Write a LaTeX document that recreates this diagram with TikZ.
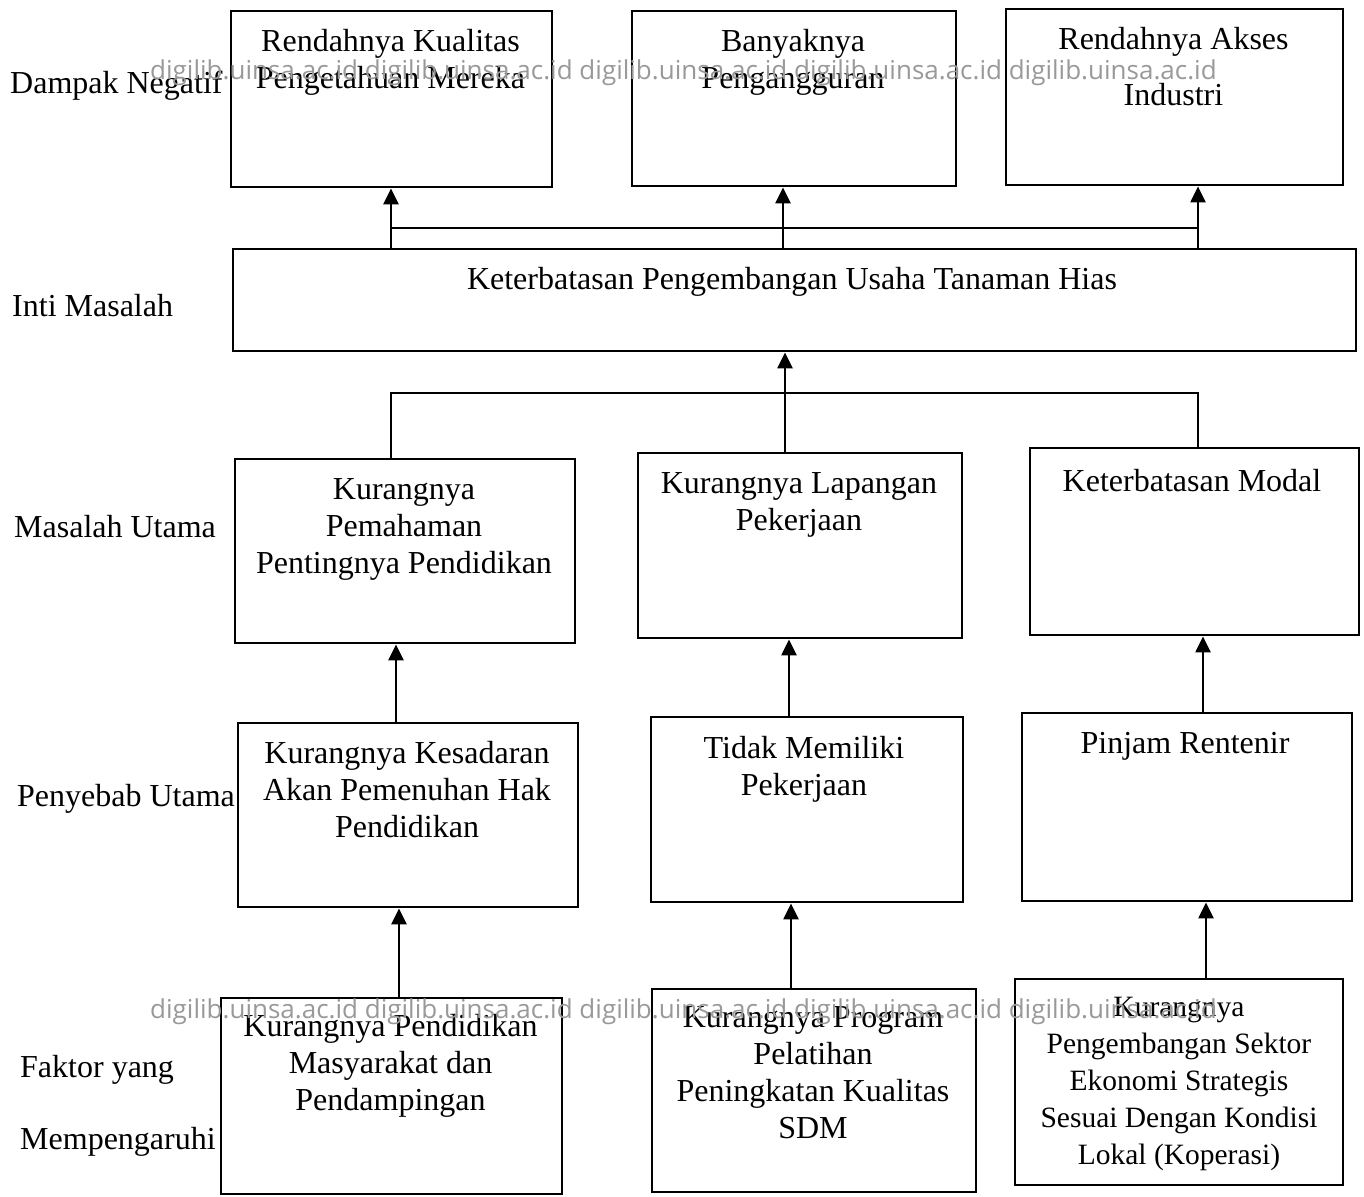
\documentclass[tikz,border=0pt]{standalone}
\usepackage{fontspec}
\setmainfont{Liberation Serif}
\newfontfamily\wmfont{Open Sans}
\usetikzlibrary{arrows.meta}
\begin{document}
\begin{tikzpicture}[x=1pt,y=-1pt,
  box/.style={draw, line width=2.4pt, anchor=north west, inner sep=0pt},
  txt/.style={anchor=north, align=center, inner sep=0pt, font=\fontsize{32}{37}\selectfont},
  small/.style={font=\fontsize{29.5}{37}\selectfont},
  lab/.style={anchor=base west, inner sep=0pt, font=\fontsize{32}{37}\selectfont},
  wm/.style={anchor=base west, inner sep=0pt, text=black!40, font=\wmfont\fontsize{26}{30}\selectfont},
  ln/.style={line width=2.4pt},
  arr/.style={ln, -{Triangle[length=16pt,width=15pt]}}]
\fill[white] (0,0) rectangle (1364,1196);
\useasboundingbox (0,0) rectangle (1364,1196);

% left labels
\node[lab] (L1) at (10,94) {Dampak Negatif};
\node[lab] (L2) at (12,316) {Inti Masalah};
\node[lab] (L3) at (14,537) {Masalah Utama};
\node[lab] (L4) at (17,806) {Penyebab Utama};
\node[lab] (L5) at (20,1077) {Faktor yang};
\node[lab] (L6) at (20,1149) {Mempengaruhi};

% boxes
\node[box, minimum width=321pt, minimum height=176pt] (A1) at (230,10) {};
\node[box, minimum width=324pt, minimum height=175pt] (A2) at (631,10) {};
\node[box, minimum width=337pt, minimum height=176pt] (A3) at (1005,8) {};
\node[box, minimum width=1123pt, minimum height=102pt] (C) at (232,248) {};
\node[box, minimum width=340pt, minimum height=184pt] (M1) at (234,458) {};
\node[box, minimum width=324pt, minimum height=185pt] (M2) at (637,452) {};
\node[box, minimum width=329pt, minimum height=187pt] (M3) at (1029,447) {};
\node[box, minimum width=340pt, minimum height=184pt] (P1) at (237,722) {};
\node[box, minimum width=312pt, minimum height=185pt] (P2) at (650,716) {};
\node[box, minimum width=330pt, minimum height=188pt] (P3) at (1021,712) {};
\node[box, minimum width=341pt, minimum height=196pt] (F1) at (220,997) {};
\node[box, minimum width=324pt, minimum height=203pt] (F2) at (651,988) {};
\node[box, minimum width=328pt, minimum height=206pt] (F3) at (1014,978) {};

% texts
\node[txt] (A1t) at (390.5,29) {Rendahnya Kualitas\\Pengetahuan Mereka};
\node[txt] (A2t) at (793,29) {Banyaknya\\Pengangguran};
\node[txt] (A3t) at (1173.5,27) {Rendahnya Akses\\[19pt]Industri};
\node[txt] (Ct) at (792,267) {Keterbatasan Pengembangan Usaha Tanaman Hias};
\node[txt] (M1t) at (404,478) {Kurangnya\\Pemahaman\\Pentingnya Pendidikan};
\node[txt] (M2t) at (799,472) {Kurangnya Lapangan\\Pekerjaan};
\node[txt] (M3t) at (1192,469) {Keterbatasan Modal};
\node[txt] (P1t) at (407,741) {Kurangnya Kesadaran\\Akan Pemenuhan Hak\\Pendidikan};
\node[txt] (P2t) at (804,736) {Tidak Memiliki\\Pekerjaan};
\node[txt] (P3t) at (1185,732) {Pinjam Rentenir};
\node[txt] (F1t) at (390.5,1014) {Kurangnya Pendidikan\\Masyarakat dan\\Pendampingan};
\node[txt] (F2t) at (813,1006) {Kurangnya Program\\Pelatihan\\Peningkatan Kualitas\\SDM};
\node[txt, small] (F3t) at (1179,997) {Kurangnya\\Pengembangan Sektor\\Ekonomi Strategis\\Sesuai Dengan Kondisi\\Lokal (Koperasi)};

% connector coordinates
\coordinate (t1) at (391,0);
\coordinate (t2) at (783,0);
\coordinate (t3) at (1198,0);
\coordinate (jt) at (0,228);
\coordinate (m1) at (391,0);
\coordinate (m2) at (785,0);
\coordinate (m3) at (1198,0);
\coordinate (jm) at (0,393);
\coordinate (p1) at (396,0);
\coordinate (p2) at (789,0);
\coordinate (p3) at (1203,0);
\coordinate (f1) at (399,0);
\coordinate (f2) at (791,0);
\coordinate (f3) at (1206,0);

% top: core -> impacts
\draw[arr] (t1 |- C.north) -- (t1 |- A1.south);
\draw[arr] (t2 |- C.north) -- (t2 |- A2.south);
\draw[arr] (t3 |- C.north) -- (t3 |- A3.south);
\draw[ln] (t1 |- jt) -- (t3 |- jt);

% middle: main problems -> core
\draw[ln] (m1 |- M1.north) -- (m1 |- jm) -- (m3 |- jm) -- (m3 |- M3.north);
\draw[arr] (m2 |- M2.north) -- (m2 |- C.south);

% causes -> main problems
\draw[arr] (p1 |- P1.north) -- (p1 |- M1.south);
\draw[arr] (p2 |- P2.north) -- (p2 |- M2.south);
\draw[arr] (p3 |- P3.north) -- (p3 |- M3.south);

% factors -> causes
\draw[arr] (f1 |- F1.north) -- (f1 |- P1.south);
\draw[arr] (f2 |- F2.north) -- (f2 |- P2.south);
\draw[arr] (f3 |- F3.north) -- (f3 |- P3.south);

% watermark
\node[wm] (W1) at (150,80) {digilib.uinsa.ac.id digilib.uinsa.ac.id digilib.uinsa.ac.id digilib.uinsa.ac.id digilib.uinsa.ac.id};
\node[wm] (W2) at (150,1018) {digilib.uinsa.ac.id digilib.uinsa.ac.id digilib.uinsa.ac.id digilib.uinsa.ac.id digilib.uinsa.ac.id};
\end{tikzpicture}
\end{document}
